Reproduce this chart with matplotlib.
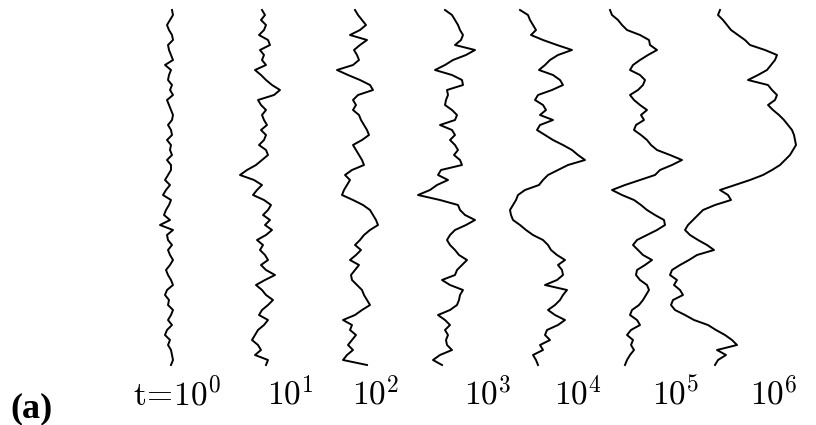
import matplotlib
matplotlib.use("Agg")
import matplotlib.pyplot as plt
import numpy as np

plt.rcParams['mathtext.fontset'] = 'cm'

# interface height profiles h(x) at successive times, sampled every 5 sites
h_t0 = [2, 3, 0, -3, -1, 2, 3, -2, -1, 1, 3, -5, 1, -1, -2, 2, 0, 3, -3, -1,
        1, 3, 2, -2, 1, 2, -3, 1, 0, 2, -3, 1, 1, -2, -5, 0, -4, -7, 1, -1,
        -4, -6, 0, -10, 3, -3, -2, 2, -2, 0, 3, 0, -4, -2, 1, 3, -3, -5, -1, -2,
        3, 1, -2, 2, -3, -5, 0, -2, 1, 2, 3, 1]
h_t1 = [0, 3, -1, 4, 2, -3, 6, 8, -2, 2, 0, 4, -7, -1, 4, 10, 18, 12, -4, -1,
        4, 0, 2, 5, -1, 4, 2, -3, 4, 6, 0, -6, -15, -22, -8, 0, -5, -9, 2, 9,
        6, 1, 8, 3, 10, 4, -5, 1, -2, 3, 6, -1, 4, 13, 3, -6, 0, 4, 11, 6,
        0, -3, 6, 2, -4, -7, -10, -4, -1, -7, 6, 4]
h_t2 = [-2, 1, 5, 9, 3, -7, 10, 3, -3, 0, 2, -4, -20, -9, 3, 13, 16, 1, -4, -1,
        -4, 2, 4, 7, 10, 12, 5, -4, -1, 2, 5, 7, -5, -12, -7, -10, -13, -15, -4, 6,
        13, 16, 19, 21, 13, 7, 3, -2, 4, -1, -7, 2, -2, -6, -5, 0, 5, 7, 10, 13,
        5, -2, -14, -5, -7, -1, -5, -9, -4, -10, -14, 10]
h_t3 = [-5, 2, 5, 8, 10, 13, 11, 5, 25, 16, 3, -5, -15, 2, 12, 13, -3, -2, -4, -5,
        2, 7, 5, -10, 2, 5, 0, 5, 8, 4, 10, 12, -9, -12, -2, -13, -20, -32, -10, 8,
        10, 15, 25, 16, 5, 0, -3, 0, 5, 9, 17, 12, 7, 5, -8, 0, 13, 10, 9, 7,
        0, -12, -5, 0, -5, -2, -4, -3, 2, -10, -17, -8]
h_t4 = [-28, -20, -18, -15, -12, -17, -5, 9, 24, 10, 2, -3, -9, 5, 12, 15, 4, -10, -13, -5,
        -2, -8, 5, -8, -11, -3, 5, 15, 24, 30, 37, 20, 10, 0, -5, -9, -23, -30, -32, -35,
        -38, -37, -35, -28, -22, -15, -5, 0, 3, 9, 17, 10, 14, 15, 9, -3, 19, 15, 12, 7,
        0, 7, 17, 10, -1, -3, 2, -8, -5, -15, -12, -10]
h_t5 = [-30, -28, -22, -18, -13, 0, 9, 10, 17, 8, 0, -7, -10, 0, 5, 3, -2, -10, -6, 0,
        7, 1, 4, -4, -6, 1, 7, 11, 17, 30, 42, 32, 20, 15, 0, -15, -28, -18, -6, 1,
        7, 15, 24, 25, 17, 7, -3, -7, -2, 3, 12, 5, -3, -4, 0, 7, 9, 6, 3, -1,
        -8, -10, -3, 0, -9, -13, -7, -9, -6, -10, -13, -15]
h_t6 = [-15, -17, -12, -8, -4, 3, 10, 15, 30, 42, 40, 36, 32, 23, 13, 33, 37, 42, 40, 33,
        38, 44, 49, 53, 57, 59, 60, 61, 58, 55, 50, 45, 37, 28, 15, 0, -15, -7, -4, -20,
        -32, -37, -42, -47, -50, -45, -37, -28, -21, -38, -46, -55, -63, -65, -58, -61, -55, -52, -62, -64,
        -60, -50, -41, -27, -19, -10, -3, 2, -18, -9, -17, -20]

profiles = [h_t0, h_t1, h_t2, h_t3, h_t4, h_t5, h_t6]
time_labels = [r'$\mathrm{t\!=\!10^0}$', r'$10^1$', r'$10^2$', r'$10^3$',
               r'$10^4$', r'$10^5$', r'$10^6$']

# where each profile sits on the page, and where its label goes
centres = [170, 262, 357, 450, 548, 640, 735]
label_x = [133, 267, 352, 464, 554, 652, 750]

fig = plt.figure(figsize=(8.16, 4.25), dpi=100)
ax = fig.add_axes([0, 0, 1, 1])
ax.set_xlim(0, 816)
ax.set_ylim(425, 0)
ax.axis('off')

for h, c in zip(profiles, centres):
    h = np.asarray(h)
    pos = 10 + 5 * np.arange(len(h))
    ax.plot(c + h, pos, color='black', linewidth=1.4)

for lab, lx in zip(time_labels, label_x):
    ax.text(lx, 405, lab, fontsize=24, ha='left', va='baseline')

ax.text(10, 417, '(a)', fontsize=26, fontweight='bold',
        family='Liberation Serif', ha='left', va='baseline')

fig.savefig('out.png', dpi=100)
